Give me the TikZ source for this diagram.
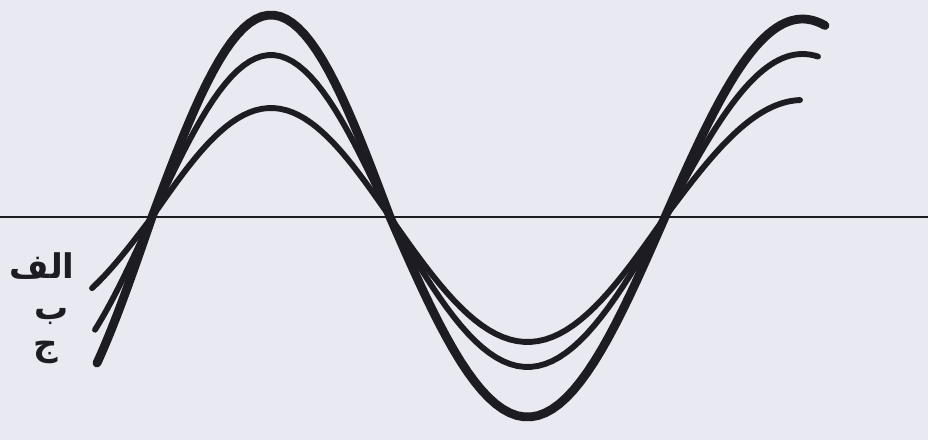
\documentclass[tikz,border=0pt]{standalone}
\usepackage{fontspec}
\usepackage{tikz}
\usetikzlibrary{positioning}
\usepackage[svgnames]{xcolor}
\TeXXeTstate=1
\newfontfamily\arabicfont[Script=Arabic]{DejaVu Sans}
\definecolor{paper}{RGB}{233,233,241}
\definecolor{ink}{RGB}{28,28,34}

\begin{document}
\begin{tikzpicture}[
    x=0.3mm, y=-0.3mm,
    axisline/.style={draw=ink, line width=1.6pt},
    wavebig/.style={draw=ink, line width=7.5pt, line cap=round, line join=round},
    wavemid/.style={draw=ink, line width=5pt, line cap=round, line join=round},
    wavesmall/.style={draw=ink, line width=5pt, line cap=round, line join=round},
    curvelabel/.style={inner sep=0pt, text=ink, font=\arabicfont\bfseries\fontsize{29}{30}\selectfont},
]

% --- paper ---
\fill [paper] (0,0) rectangle (928,440);
\useasboundingbox (0,0) rectangle (928,440);

% --- axis ---
\coordinate (axisleft) at (0,217);
\coordinate (axisright) at (928,217);
\draw [axisline] (axisleft) -- (axisright);

% --- waves (large, middle, small) ---
\draw [wavebig, samples=40]
    plot[domain=97:152] (\x, {217+220*sin((152-\x)/238*180)})
    -- plot[domain=152:390] (\x, {217-202*sin((\x-152)/238*180)})
    -- plot[domain=390:665] (\x, {217+200*sin((\x-390)/275*180)})
    -- plot[domain=665:825] (\x, {217-198*sin((\x-665)/275*180)});

\draw [wavemid, samples=40]
    plot[domain=95:152] (\x, {217+165*sin((152-\x)/238*180)})
    -- plot[domain=152:390] (\x, {217-162*sin((\x-152)/238*180)})
    -- plot[domain=390:665] (\x, {217+150*sin((\x-390)/275*180)})
    -- plot[domain=665:818] (\x, {217-163*sin((\x-665)/275*180)});

\draw [wavesmall, samples=40]
    plot[domain=92:152] (\x, {217+100*sin((152-\x)/238*180)})
    -- plot[domain=152:390] (\x, {217-109*sin((\x-152)/238*180)})
    -- plot[domain=390:665] (\x, {217+125*sin((\x-390)/275*180)})
    -- plot[domain=665:800] (\x, {217-117*sin((\x-665)/275*180)});

% --- labels ---
\node [curvelabel] (alef) at (42,266) {\beginR الف\endR};
\node [curvelabel] (be) at (52,316) {\beginR ب\endR};
\node [curvelabel] (jim) at (46,352) {\beginR ج\endR};

\end{tikzpicture}
\end{document}
